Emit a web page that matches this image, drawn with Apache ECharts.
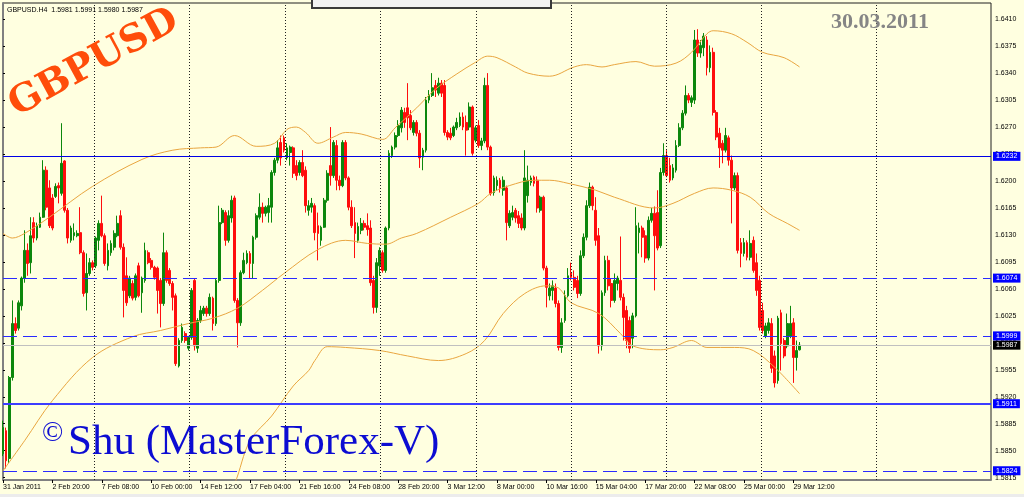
<!DOCTYPE html>
<html><head><meta charset="utf-8">
<script src="https://cdn.jsdelivr.net/npm/echarts@6/dist/echarts.min.js"></script>
<style>html,body{margin:0;padding:0;background:#ffffe0;}#c{width:1024px;height:497px;}</style>
</head><body><div id="c"></div>
<script>
// ---- data (prices of GBPUSD H4 bars) ----
const tickLabels = ['31 Jan 2011','2 Feb 20:00','7 Feb 08:00','10 Feb 00:00','14 Feb 12:00','17 Feb 04:00','21 Feb 16:00','24 Feb 08:00','28 Feb 20:00','3 Mar 12:00','8 Mar 00:00','10 Mar 16:00','15 Mar 04:00','17 Mar 20:00','22 Mar 08:00','25 Mar 00:00','29 Mar 12:00'];
const opens = [1.5846,1.5876,1.5840,1.5945,1.6015,1.6009,1.6038,1.6074,1.6110,1.6094,
1.6146,1.6126,1.6140,1.6153,1.6214,1.6191,1.6178,1.6180,1.6194,1.6184,
1.6226,1.6162,1.6123,1.6129,1.6129,1.6133,1.6107,1.6055,1.6080,1.6094,
1.6090,1.6123,1.6145,1.6129,1.6090,1.6107,1.6114,1.6129,1.6155,1.6114,
1.6077,1.6051,1.6067,1.6049,1.6090,1.6055,1.6071,1.6107,1.6097,1.6088,
1.6087,1.6071,1.6041,1.6107,1.6084,1.6067,1.6051,1.5960,1.5993,1.6002,
1.5983,1.5997,1.6071,1.5983,1.6019,1.6028,1.6035,1.6028,1.6048,1.6015,
1.6071,1.6146,1.6159,1.6123,1.6152,1.6178,1.6045,1.6016,1.6081,1.6094,
1.6106,1.6093,1.6127,1.6153,1.6166,1.6158,1.6159,1.6166,1.6211,1.6227,
1.6250,1.6256,1.6230,1.6237,1.6243,1.6220,1.6211,1.6224,1.6214,1.6162,
1.6166,1.6168,1.6142,1.6123,1.6140,1.6175,1.6220,1.6207,1.6246,1.6201,
1.6194,1.6250,1.6204,1.6166,1.6146,1.6123,1.6136,1.6145,1.6142,1.6139,
1.6071,1.6036,1.6090,1.6107,1.6084,1.6139,1.6233,1.6244,1.6259,1.6269,
1.6289,1.6295,1.6285,1.6263,1.6276,1.6262,1.6231,1.6240,1.6305,1.6311,
1.6324,1.6314,1.6327,1.6324,1.6263,1.6262,1.6259,1.6269,1.6272,1.6283,
1.6276,1.6270,1.6296,1.6253,1.6272,1.6246,1.6252,1.6324,1.6244,1.6185,
1.6194,1.6201,1.6188,1.6191,1.6142,1.6153,1.6162,1.6155,1.6152,1.6139,
1.6181,1.6198,1.6205,1.6201,1.6162,1.6179,1.6087,1.6051,1.6058,1.6061,
1.6041,1.5984,1.6019,1.6051,1.6081,1.6075,1.6071,1.6054,1.6103,1.6127,
1.6168,1.6192,1.6162,1.6129,1.5986,1.6055,1.6097,1.6067,1.6045,1.6067,
1.6071,1.6049,1.6032,1.6019,1.5996,1.6025,1.6133,1.6139,1.6129,1.6100,
1.6149,1.6158,1.6159,1.6116,1.6211,1.6233,1.6220,1.6204,1.6214,1.6246,
1.6269,1.6288,1.6311,1.6302,1.6305,1.6383,1.6366,1.6373,1.6383,1.6347,
1.6367,1.6289,1.6262,1.6249,1.6240,1.6256,1.6227,1.6191,1.6207,1.6120,
1.6106,1.6120,1.6101,1.6123,1.6094,1.6071,1.6032,1.5999,1.6006,1.6015,
1.5973,1.5941,1.6029,1.5993,1.5986,1.5999,1.6016,1.5971,1.5981];
const closes = [1.5880,1.5837,1.5945,1.6015,1.6006,1.6042,1.6074,1.6110,1.6093,1.6129,
1.6126,1.6142,1.6153,1.6214,1.6166,1.6142,1.6139,1.6193,1.6191,1.6223,
1.6162,1.6126,1.6139,1.6133,1.6132,1.6107,1.6054,1.6080,1.6094,1.6088,
1.6126,1.6145,1.6129,1.6093,1.6110,1.6119,1.6132,1.6145,1.6114,1.6058,
1.6042,1.6074,1.6048,1.6077,1.6051,1.6074,1.6110,1.6094,1.6088,1.6075,
1.6058,1.6041,1.6107,1.6071,1.6067,1.6049,1.5963,1.5993,1.6010,1.5993,
1.5997,1.6058,1.5986,1.6019,1.6032,1.6035,1.6028,1.6049,1.6015,1.6071,
1.6146,1.6162,1.6123,1.6155,1.6175,1.6045,1.6016,1.6081,1.6097,1.6106,
1.6093,1.6127,1.6155,1.6166,1.6158,1.6166,1.6168,1.6211,1.6227,1.6243,
1.6230,1.6240,1.6243,1.6244,1.6210,1.6207,1.6224,1.6207,1.6168,1.6168,
1.6171,1.6133,1.6132,1.6140,1.6175,1.6210,1.6207,1.6250,1.6201,1.6194,
1.6250,1.6204,1.6166,1.6142,1.6132,1.6141,1.6145,1.6140,1.6137,1.6068,
1.6036,1.6094,1.6110,1.6084,1.6139,1.6236,1.6244,1.6259,1.6272,1.6292,
1.6276,1.6282,1.6269,1.6276,1.6262,1.6230,1.6240,1.6305,1.6311,1.6321,
1.6318,1.6327,1.6314,1.6263,1.6257,1.6256,1.6270,1.6276,1.6283,1.6270,
1.6266,1.6296,1.6236,1.6269,1.6246,1.6252,1.6324,1.6244,1.6184,1.6204,
1.6201,1.6191,1.6201,1.6146,1.6158,1.6159,1.6152,1.6145,1.6139,1.6204,
1.6201,1.6204,1.6197,1.6165,1.6179,1.6087,1.6062,1.6061,1.6064,1.6041,
1.5984,1.6016,1.6051,1.6077,1.6075,1.6062,1.6054,1.6103,1.6127,1.6168,
1.6192,1.6168,1.6123,1.5986,1.6055,1.6097,1.6064,1.6045,1.6071,1.6074,
1.6049,1.6023,1.5993,1.5983,1.6025,1.6142,1.6139,1.6127,1.6100,1.6149,
1.6158,1.6129,1.6113,1.6211,1.6233,1.6207,1.6201,1.6217,1.6246,1.6269,
1.6288,1.6311,1.6305,1.6308,1.6383,1.6366,1.6376,1.6388,1.6347,1.6367,
1.6289,1.6257,1.6243,1.6240,1.6259,1.6227,1.6191,1.6207,1.6110,1.6106,
1.6120,1.6101,1.6119,1.6084,1.6058,1.6010,1.6006,1.6012,1.6016,1.5957,
1.5938,1.6022,1.5989,1.5973,1.6015,1.6015,1.5971,1.5980,1.5987];
const lows = [1.5843,1.5827,1.5834,1.5941,1.6002,1.6006,1.6032,1.6068,1.6077,1.6080,
1.6120,1.6123,1.6139,1.6152,1.6162,1.6139,1.6136,1.6178,1.6171,1.6181,
1.6159,1.6119,1.6120,1.6123,1.6127,1.6105,1.6050,1.6032,1.6077,1.6084,
1.6087,1.6110,1.6127,1.6090,1.6084,1.6103,1.6110,1.6127,1.6111,1.6023,
1.6038,1.6048,1.6045,1.6045,1.6049,1.6029,1.6068,1.6092,1.6085,1.6072,
1.6028,1.6010,1.6038,1.6068,1.6064,1.6032,1.5960,1.5958,1.5990,1.5990,
1.5980,1.5994,1.5980,1.5977,1.6016,1.6025,1.6024,1.6025,1.6006,1.6012,
1.6068,1.6144,1.6116,1.6120,1.6146,1.6042,1.5984,1.6012,1.6079,1.6092,
1.6074,1.6074,1.6124,1.6150,1.6146,1.6154,1.6146,1.6146,1.6207,1.6223,
1.6220,1.6237,1.6227,1.6220,1.6204,1.6201,1.6207,1.6205,1.6159,1.6155,
1.6159,1.6123,1.6097,1.6116,1.6139,1.6172,1.6194,1.6204,1.6188,1.6188,
1.6192,1.6201,1.6162,1.6139,1.6100,1.6120,1.6131,1.6136,1.6129,1.6064,
1.6028,1.6029,1.6077,1.6081,1.6081,1.6136,1.6230,1.6241,1.6257,1.6263,
1.6269,1.6253,1.6266,1.6259,1.6258,1.6217,1.6214,1.6237,1.6301,1.6309,
1.6309,1.6311,1.6309,1.6259,1.6253,1.6253,1.6257,1.6266,1.6270,1.6266,
1.6233,1.6266,1.6233,1.6250,1.6243,1.6240,1.6249,1.6240,1.6181,1.6181,
1.6188,1.6185,1.6181,1.6123,1.6139,1.6149,1.6146,1.6139,1.6136,1.6136,
1.6172,1.6194,1.6193,1.6159,1.6159,1.6084,1.6036,1.6045,1.6045,1.6036,
1.5980,1.5977,1.6016,1.6049,1.6071,1.6058,1.6048,1.6051,1.6100,1.6123,
1.6165,1.6162,1.6116,1.5976,1.5980,1.6051,1.6058,1.6036,1.6042,1.6058,
1.6045,1.5993,1.5983,1.5977,1.5983,1.6023,1.6106,1.6101,1.6094,1.6097,
1.6146,1.6058,1.6110,1.6113,1.6207,1.6205,1.6198,1.6201,1.6211,1.6244,
1.6266,1.6285,1.6301,1.6296,1.6300,1.6361,1.6360,1.6362,1.6337,1.6341,
1.6285,1.6253,1.6217,1.6223,1.6237,1.6220,1.6145,1.6188,1.6106,1.6088,
1.6102,1.6097,1.6097,1.6081,1.6051,1.6006,1.6002,1.5996,1.6002,1.5951,
1.5932,1.5937,1.5954,1.5970,1.5983,1.5996,1.5938,1.5954,1.5980];
const highs = [1.5889,1.5880,1.5947,1.6045,1.6023,1.6045,1.6076,1.6136,1.6119,1.6153,
1.6153,1.6146,1.6159,1.6227,1.6219,1.6201,1.6183,1.6197,1.6198,1.6275,
1.6227,1.6165,1.6142,1.6145,1.6136,1.6166,1.6110,1.6106,1.6100,1.6097,
1.6128,1.6149,1.6181,1.6132,1.6119,1.6123,1.6136,1.6155,1.6162,1.6119,
1.6101,1.6077,1.6071,1.6080,1.6094,1.6076,1.6120,1.6110,1.6100,1.6090,
1.6089,1.6074,1.6133,1.6110,1.6087,1.6070,1.6054,1.5996,1.6015,1.6005,
1.5999,1.6061,1.6074,1.6022,1.6038,1.6038,1.6038,1.6054,1.6050,1.6074,
1.6168,1.6165,1.6162,1.6162,1.6181,1.6181,1.6048,1.6084,1.6107,1.6110,
1.6109,1.6129,1.6158,1.6184,1.6172,1.6168,1.6178,1.6214,1.6230,1.6253,
1.6259,1.6259,1.6249,1.6246,1.6245,1.6227,1.6227,1.6240,1.6219,1.6175,
1.6178,1.6171,1.6159,1.6142,1.6178,1.6214,1.6270,1.6253,1.6253,1.6207,
1.6253,1.6253,1.6206,1.6175,1.6166,1.6146,1.6152,1.6149,1.6158,1.6149,
1.6077,1.6100,1.6114,1.6110,1.6141,1.6240,1.6246,1.6263,1.6279,1.6296,
1.6295,1.6327,1.6292,1.6279,1.6279,1.6266,1.6243,1.6309,1.6318,1.6340,
1.6331,1.6334,1.6331,1.6331,1.6266,1.6269,1.6272,1.6282,1.6289,1.6289,
1.6285,1.6302,1.6298,1.6272,1.6279,1.6256,1.6334,1.6340,1.6246,1.6207,
1.6206,1.6204,1.6206,1.6194,1.6162,1.6168,1.6165,1.6161,1.6158,1.6240,
1.6220,1.6207,1.6207,1.6206,1.6181,1.6181,1.6090,1.6067,1.6071,1.6067,
1.6045,1.6022,1.6058,1.6087,1.6094,1.6084,1.6077,1.6110,1.6132,1.6175,
1.6198,1.6194,1.6179,1.6139,1.6058,1.6103,1.6103,1.6074,1.6080,1.6077,
1.6128,1.6054,1.6038,1.6024,1.6029,1.6166,1.6146,1.6142,1.6136,1.6154,
1.6165,1.6167,1.6188,1.6217,1.6249,1.6240,1.6230,1.6222,1.6253,1.6275,
1.6292,1.6324,1.6314,1.6311,1.6396,1.6397,1.6383,1.6392,1.6388,1.6376,
1.6373,1.6292,1.6269,1.6253,1.6269,1.6259,1.6233,1.6211,1.6211,1.6126,
1.6126,1.6123,1.6136,1.6128,1.6106,1.6077,1.6042,1.6016,1.6022,1.6022,
1.5980,1.6025,1.6033,1.5996,1.6028,1.6038,1.6022,1.5993,1.5991];
// Bollinger-style bands: [bar index, price]
const upperBand = [[0,1.6132],[3,1.6126],[7,1.6132],[15,1.6153],[29,1.6193],[45,1.6228],[55,1.6240],[64,1.6243],[69,1.6244],[75,1.6259],[82,1.6245],[88,1.6249],[92,1.6267],[95,1.6270],[98,1.6263],[102,1.6249],[107,1.6257],[111,1.6263],[116,1.6261],[123,1.6254],[127,1.6269],[134,1.6295],[140,1.6319],[147,1.6339],[153,1.6354],[157,1.6362],[160,1.6360],[166,1.6348],[170,1.6340],[177,1.6336],[185,1.6348],[189,1.6351],[194,1.6348],[198,1.6351],[205,1.6355],[211,1.6349],[218,1.6353],[223,1.6367],[228,1.6391],[230,1.6395],[236,1.6391],[241,1.6380],[246,1.6367],[253,1.6360],[258,1.6348]];
const middleBand = [[0,1.5824],[7,1.5863],[16,1.5915],[29,1.5971],[42,1.5998],[51,1.6006],[60,1.6015],[68,1.6022],[76,1.6035],[84,1.6058],[91,1.6080],[102,1.6111],[111,1.6123],[118,1.6119],[124,1.6118],[129,1.6126],[134,1.6132],[145,1.6153],[154,1.6171],[158,1.6184],[164,1.6194],[172,1.6201],[177,1.6201],[183,1.6197],[192,1.6188],[198,1.6179],[211,1.6165],[217,1.6171],[224,1.6184],[230,1.6191],[236,1.6188],[242,1.6179],[248,1.6158],[254,1.6145],[258,1.6136]];
const lowerBand = [[70,1.5770],[75,1.5807],[80,1.5863],[87,1.5895],[94,1.5934],[99,1.5954],[101,1.5967],[105,1.5985],[111,1.5984],[122,1.5980],[131,1.5973],[141,1.5967],[150,1.5976],[156,1.5993],[162,1.6028],[169,1.6054],[176,1.6064],[180,1.6061],[184,1.6042],[193,1.6028],[200,1.6002],[204,1.5986],[213,1.5981],[217,1.5984],[223,1.5993],[228,1.5984],[237,1.5984],[243,1.5980],[250,1.5958],[258,1.5924]];
const yTicks = [1.5815,1.5850,1.5885,1.5920,1.5955,1.5990,1.6025,1.6060,1.6095,1.6130,1.6165,1.6200,1.6235,1.6270,1.6305,1.6340,1.6375,1.6410];
const separatorIdx = [29.4,60.3,91.3,122.2,153.2,184.0,214.8,245.7,282.7];
const solidLevels = [1.6232,1.5911];
const dashedLevels = [1.6074,1.5999,1.5824];
const bidLevel = 1.5987;
const header = 'GBPUSD.H4  1.5981 1.5991 1.5980 1.5987';

// ---- chart ----
const SLOTS = 321;
const categories = Array.from({length: SLOTS}, (_, j) => (j % 16 === 0 && j / 16 < tickLabels.length) ? tickLabels[j / 16] : '');
const candles = opens.map((o, k) => [o, closes[k], lows[k], highs[k]]);
const chart = echarts.init(document.getElementById('c'), null, {renderer: 'canvas'});
const showTick = (i, v) => v !== '';
const lvlLabel = (bg) => ({show: true, position: 'end', distance: 2, formatter: p => Number(p.value).toFixed(4),
  backgroundColor: bg, color: '#fff', fontSize: 7, fontFamily: 'Liberation Sans', padding: [1, 3, 1, 3]});
const levelLines = [
  {yAxis: bidLevel, lineStyle: {color: '#c0c0c0', width: 1, type: 'solid'}, label: lvlLabel('#000000')},
  ...solidLevels.map((v, k) => ({yAxis: v, lineStyle: {color: k === 0 ? '#0000e6' : '#3c3cff', width: k === 0 ? 1 : 2, type: 'solid'}, label: lvlLabel('#0000ff')})),
  ...dashedLevels.map(v => ({yAxis: v, lineStyle: {color: '#2a2aff', width: 1, type: [14, 6]}, label: lvlLabel('#0000ff')}))
];
const bandStyle = {color: '#e9a640', width: 1};
const option = {
  backgroundColor: '#ffffe0',
  animation: false,
  grid: {left: 3, right: 33, top: 3, bottom: 17, show: true, borderColor: '#202020', borderWidth: 1},
  xAxis: [
    {type: 'category', data: categories, boundaryGap: false,
     axisLine: {show: true, lineStyle: {color: '#808080', width: 2}},
     axisTick: {show: true, length: 3, interval: showTick, lineStyle: {color: '#000'}},
     axisLabel: {interval: showTick, align: 'left', margin: 4, fontSize: 7, fontFamily: 'Liberation Sans', color: '#000'},
     splitLine: {show: false}},
    {type: 'value', min: 0, max: SLOTS - 1, show: false}
  ],
  yAxis: {type: 'value', position: 'right', min: 1.5812, max: 1.6431,
    axisLine: {show: true, lineStyle: {color: '#808080', width: 2}},
    axisTick: {show: true, length: 2, customValues: yTicks, lineStyle: {color: '#000'}},
    axisLabel: {customValues: yTicks, formatter: v => v.toFixed(4), fontSize: 7, fontFamily: 'Liberation Sans', color: '#000', margin: 4},
    splitLine: {show: false}},
  series: [
    {type: 'candlestick', xAxisIndex: 0, data: candles, barWidth: 2.3,
     itemStyle: {color: '#0c870c', color0: '#ff0d0d', borderColor: '#0c870c', borderColor0: '#ff0d0d', borderWidth: 1}},
    {type: 'line', xAxisIndex: 1, data: upperBand, smooth: 0.35, symbol: 'none', lineStyle: bandStyle, z: 3,
     markLine: {silent: true, symbol: ['none', 'none'], animation: false, precision: 4, label: {show: false},
       data: separatorIdx.map(v => ({xAxis: v})), lineStyle: {color: '#202020', width: 1, type: [1, 2]}}},
    {type: 'line', xAxisIndex: 1, data: middleBand, smooth: 0.35, symbol: 'none', lineStyle: bandStyle, z: 3,
     markLine: {silent: true, symbol: ['none', 'none'], animation: false, precision: 4, data: levelLines}},
    {type: 'line', xAxisIndex: 1, data: lowerBand, smooth: 0.35, symbol: 'none', lineStyle: bandStyle, z: 3}
  ],
  graphic: [
    {type: 'rect', shape: {x: 312, y: -2, width: 239, height: 10}, style: {fill: '#f2f2f2', stroke: '#3a3a3a', lineWidth: 2}, z: 100},
    {type: 'rect', shape: {x: 0, y: 494, width: 1024, height: 3}, style: {fill: '#ececec'}, z: 100},
    {type: 'text', x: 7, y: 10, z: 100, style: {text: header, fontSize: 7, fontFamily: 'Liberation Sans', fill: '#000', verticalAlign: 'middle'}},
    {type: 'text', x: 94, y: 63, rotation: 0.5, z: 100, style: {text: 'GBPUSD', fontSize: 38, fontWeight: 'bold', fontFamily: 'DejaVu Serif', fill: '#ff4d0a', align: 'center', verticalAlign: 'middle'}},
    {type: 'text', x: 880, y: 22, z: 100, style: {text: '30.03.2011', fontSize: 22, fontWeight: 'bold', fontFamily: 'Liberation Serif', fill: '#858585', align: 'center', verticalAlign: 'middle'}},
    {type: 'text', x: 42, y: 434, z: 100, style: {text: '\u00a9', fontSize: 28, fontFamily: 'Liberation Serif', fill: '#0c0cd2', verticalAlign: 'middle'}},
    {type: 'text', x: 68, y: 443, z: 100, style: {text: 'Shu (MasterForex-V)', fontSize: 43, fontFamily: 'Liberation Serif', fill: '#0c0cd2', verticalAlign: 'middle'}}
  ]
};
chart.setOption(option);
</script>
</body></html>
